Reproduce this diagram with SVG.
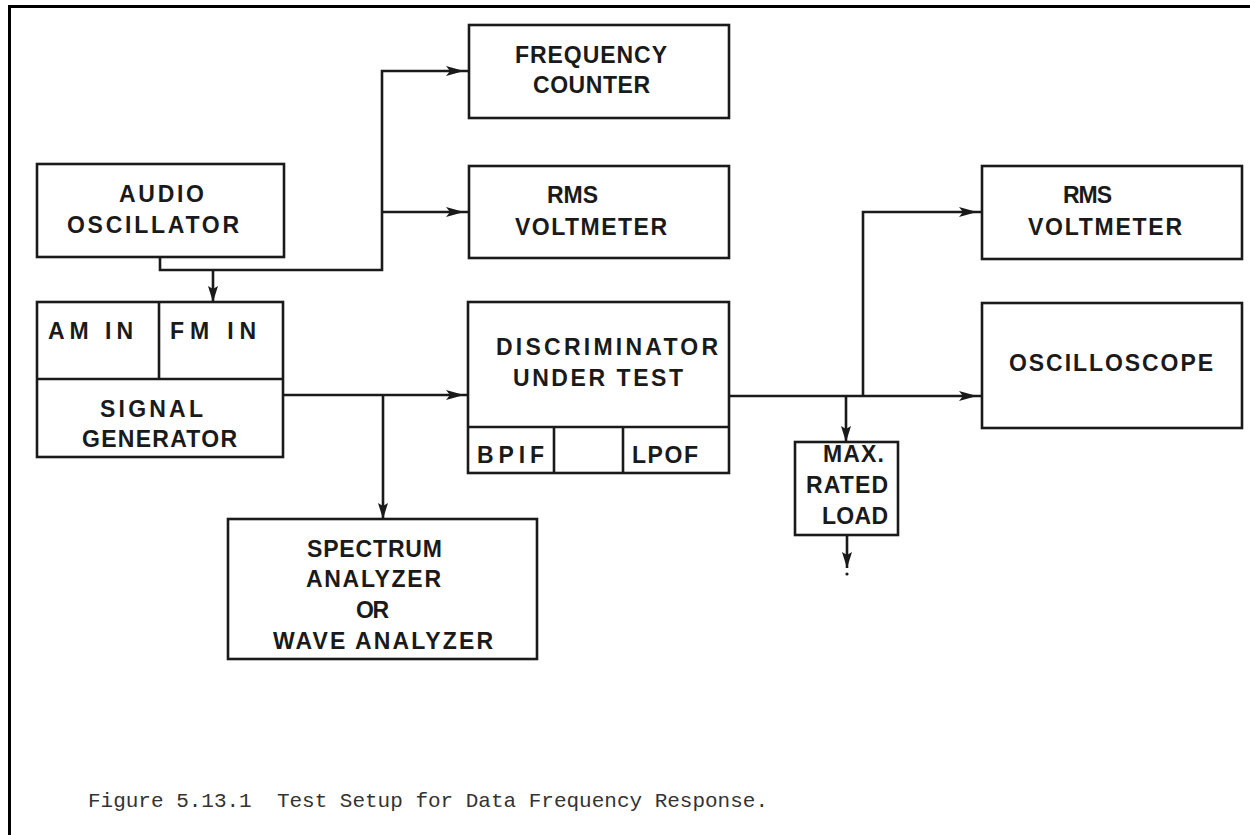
<svg xmlns="http://www.w3.org/2000/svg" width="1250" height="835" viewBox="0 0 1250 835">
<style>
.box{fill:none;stroke:#1a1a1a;stroke-width:2.6}
.ln{fill:none;stroke:#1a1a1a;stroke-width:2.6}
.t{font-family:"Liberation Sans",Arial,sans-serif;font-weight:bold;font-size:23px;fill:#1a1a1a}
.cap{font-family:"Liberation Mono","DejaVu Sans Mono",monospace;font-size:21px;fill:#333}
</style>
<defs>
<marker id="ah" markerUnits="userSpaceOnUse" markerWidth="26" markerHeight="12" refX="23" refY="5.5" orient="auto"><path d="M0,0.5 L18,5.5 L0,10.5 L4,5.5 z" fill="#1a1a1a"/></marker>
<marker id="ad" markerUnits="userSpaceOnUse" markerWidth="18" markerHeight="12" refX="16" refY="5.5" orient="auto"><path d="M0,0.5 L16,5.5 L0,10.5 L3,5.5 z" fill="#1a1a1a"/></marker>
</defs>
<rect width="1250" height="835" fill="#fff"/>
<g id="frame"><path d="M8,6.5 H1250 M9.5,5 V835" stroke="#000" stroke-width="3" fill="none"/></g>

<g id="connectors">
<path class="ln" d="M160,257 V270 H382 V71 H469" marker-end="url(#ah)"/>
<path class="ln" d="M382,212 H469" marker-end="url(#ah)"/>
<path class="ln" d="M213,270 V302" marker-end="url(#ad)"/>
<path class="ln" d="M283,395 H469" marker-end="url(#ah)"/>
<path class="ln" d="M383,395 V519" marker-end="url(#ad)"/>
<path class="ln" d="M729,396 H982" marker-end="url(#ah)"/>
<path class="ln" d="M863,396 V212 H982" marker-end="url(#ah)"/>
<path class="ln" d="M846,396 V442" marker-end="url(#ad)"/>
<path class="ln" d="M847,535 V568" marker-end="url(#ad)"/>
<circle cx="847" cy="574" r="1.6" fill="#1a1a1a"/>
</g>

<g id="frequency-counter">
<rect class="box" x="469" y="25" width="260" height="93"/>
<text class="t" x="515" y="63" textLength="152" lengthAdjust="spacing">FREQUENCY</text>
<text class="t" x="533" y="93" textLength="117" lengthAdjust="spacing">COUNTER</text>
</g>

<g id="rms-voltmeter-1">
<rect class="box" x="469" y="166" width="260" height="92"/>
<text class="t" x="547" y="203" textLength="51" lengthAdjust="spacing">RMS</text>
<text class="t" x="515" y="235" textLength="152" lengthAdjust="spacing">VOLTMETER</text>
</g>

<g id="audio-oscillator">
<rect class="box" x="37" y="164" width="247" height="93"/>
<text class="t" x="119" y="202" textLength="85" lengthAdjust="spacing">AUDIO</text>
<text class="t" x="67" y="233" textLength="172" lengthAdjust="spacing">OSCILLATOR</text>
</g>

<g id="signal-generator">
<rect class="box" x="37" y="302" width="246" height="155"/>
<path class="box" d="M37,379 H283 M159,302 V379"/>
<text class="t" x="48" y="339" textLength="85" lengthAdjust="spacing">AM IN</text>
<text class="t" x="170" y="339" textLength="86" lengthAdjust="spacing">FM IN</text>
<text class="t" x="100" y="417" textLength="103" lengthAdjust="spacing">SIGNAL</text>
<text class="t" x="82" y="447" textLength="155" lengthAdjust="spacing">GENERATOR</text>
</g>

<g id="discriminator">
<rect class="box" x="468" y="302" width="261" height="171"/>
<path class="box" d="M468,427 H729 M554,427 V473 M623,427 V473"/>
<text class="t" x="496" y="355" textLength="222" lengthAdjust="spacing">DISCRIMINATOR</text>
<text class="t" x="513" y="386" textLength="170" lengthAdjust="spacing">UNDER TEST</text>
<text class="t" x="477" y="463" textLength="67" lengthAdjust="spacing">BPIF</text>
<text class="t" x="632" y="463" textLength="66" lengthAdjust="spacing">LPOF</text>
</g>

<g id="spectrum-analyzer">
<rect class="box" x="228" y="519" width="309" height="140"/>
<text class="t" x="307" y="557" textLength="135" lengthAdjust="spacing">SPECTRUM</text>
<text class="t" x="306" y="587" textLength="135" lengthAdjust="spacing">ANALYZER</text>
<text class="t" x="356" y="618" textLength="33" lengthAdjust="spacing">OR</text>
<text class="t" x="273" y="649" textLength="220" lengthAdjust="spacing">WAVE ANALYZER</text>
</g>

<g id="rms-voltmeter-2">
<rect class="box" x="982" y="166" width="260" height="93"/>
<text class="t" x="1063" y="203" textLength="49" lengthAdjust="spacing">RMS</text>
<text class="t" x="1028" y="235" textLength="154" lengthAdjust="spacing">VOLTMETER</text>
</g>

<g id="oscilloscope">
<rect class="box" x="982" y="303" width="260" height="125"/>
<text class="t" x="1009" y="371" textLength="204" lengthAdjust="spacing">OSCILLOSCOPE</text>
</g>

<g id="max-rated-load">
<rect class="box" x="795" y="442" width="103" height="93"/>
<text class="t" x="823" y="462" textLength="61" lengthAdjust="spacing">MAX.</text>
<text class="t" x="806" y="493" textLength="82" lengthAdjust="spacing">RATED</text>
<text class="t" x="822" y="524" textLength="66" lengthAdjust="spacing">LOAD</text>
</g>

<g id="caption">
<text class="cap" x="88" y="807" textLength="680" lengthAdjust="spacing" xml:space="preserve">Figure 5.13.1  Test Setup for Data Frequency Response.</text>
</g>
</svg>
